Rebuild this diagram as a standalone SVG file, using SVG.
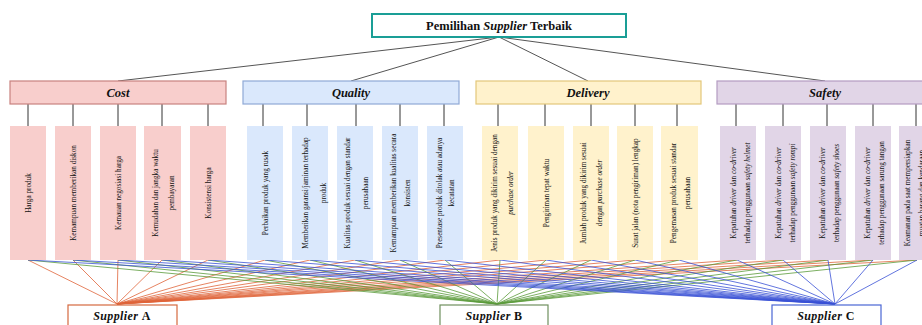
<svg xmlns="http://www.w3.org/2000/svg" width="922" height="325" viewBox="0 0 922 325">
<style>
.t{font-family:"Liberation Serif","Times New Roman",serif;fill:#111}
.title{font-size:12.5px;font-weight:bold;text-anchor:middle}
.crit{font-size:12.5px;font-weight:bold;font-style:italic;text-anchor:middle}
.sub{font-size:8.5px;text-anchor:middle}
.sup{font-size:12px;font-weight:bold;font-style:italic;text-anchor:middle;letter-spacing:0.4px}
.i{font-style:italic}
.cost{fill:#f8cecc}
.qual{fill:#dae8fc}
.del{fill:#fff2cc}
.saf{fill:#e1d5e7}
.tl{stroke:#555;stroke-width:1;fill:none}
.vl{stroke:#333;stroke-width:1;fill:none}
.a line{stroke:#e0643a;stroke-width:0.8}
.b line{stroke:#5b9b3a;stroke-width:0.8}
.c line{stroke:#3a52d6;stroke-width:0.8}
</style>
<rect width="922" height="325" fill="#fff"/>

<g id="connectors">
  <g class="tl">
    <line x1="499" y1="37" x2="118" y2="81"/>
    <line x1="499" y1="37" x2="351" y2="81"/>
    <line x1="499" y1="37" x2="588" y2="81"/>
    <line x1="499" y1="37" x2="825" y2="81"/>
  </g>
  <g class="vl">
    <line x1="28" y1="104" x2="28" y2="126"/><line x1="73" y1="104" x2="73" y2="126"/><line x1="118" y1="104" x2="118" y2="126"/><line x1="162" y1="104" x2="162" y2="126"/><line x1="208" y1="104" x2="208" y2="126"/>
    <line x1="263" y1="104" x2="263" y2="126"/><line x1="307" y1="104" x2="307" y2="126"/><line x1="356" y1="104" x2="356" y2="126"/><line x1="400" y1="104" x2="400" y2="126"/><line x1="444" y1="104" x2="444" y2="126"/>
    <line x1="498" y1="104" x2="498" y2="126"/><line x1="545" y1="104" x2="545" y2="126"/><line x1="591" y1="104" x2="591" y2="126"/><line x1="635" y1="104" x2="635" y2="126"/><line x1="677" y1="104" x2="677" y2="126"/>
    <line x1="736" y1="104" x2="736" y2="126"/><line x1="783" y1="104" x2="783" y2="126"/><line x1="827" y1="104" x2="827" y2="126"/><line x1="873" y1="104" x2="873" y2="126"/><line x1="916" y1="104" x2="916" y2="126"/>
  </g>
  <g class="a">
    <line x1="28" y1="260" x2="117" y2="304"/><line x1="73" y1="260" x2="117" y2="304"/><line x1="118" y1="260" x2="117" y2="304"/><line x1="162" y1="260" x2="117" y2="304"/><line x1="208" y1="260" x2="117" y2="304"/>
    <line x1="265" y1="260" x2="117" y2="304"/><line x1="310" y1="260" x2="117" y2="304"/><line x1="355" y1="260" x2="117" y2="304"/><line x1="400" y1="260" x2="117" y2="304"/><line x1="445" y1="260" x2="117" y2="304"/>
    <line x1="500" y1="260" x2="117" y2="304"/><line x1="546" y1="260" x2="117" y2="304"/><line x1="591" y1="260" x2="117" y2="304"/><line x1="635" y1="260" x2="117" y2="304"/><line x1="679" y1="260" x2="117" y2="304"/>
    <line x1="737" y1="260" x2="117" y2="304"/><line x1="783" y1="260" x2="117" y2="304"/><line x1="828" y1="260" x2="117" y2="304"/><line x1="873" y1="260" x2="117" y2="304"/><line x1="917" y1="260" x2="117" y2="304"/>
  </g>
  <g class="b">
    <line x1="28" y1="260" x2="497" y2="304"/><line x1="73" y1="260" x2="497" y2="304"/><line x1="118" y1="260" x2="497" y2="304"/><line x1="162" y1="260" x2="497" y2="304"/><line x1="208" y1="260" x2="497" y2="304"/>
    <line x1="265" y1="260" x2="497" y2="304"/><line x1="310" y1="260" x2="497" y2="304"/><line x1="355" y1="260" x2="497" y2="304"/><line x1="400" y1="260" x2="497" y2="304"/><line x1="445" y1="260" x2="497" y2="304"/>
    <line x1="500" y1="260" x2="497" y2="304"/><line x1="546" y1="260" x2="497" y2="304"/><line x1="591" y1="260" x2="497" y2="304"/><line x1="635" y1="260" x2="497" y2="304"/><line x1="679" y1="260" x2="497" y2="304"/>
    <line x1="737" y1="260" x2="497" y2="304"/><line x1="783" y1="260" x2="497" y2="304"/><line x1="828" y1="260" x2="497" y2="304"/><line x1="873" y1="260" x2="497" y2="304"/><line x1="917" y1="260" x2="497" y2="304"/>
  </g>
  <g class="c">
    <line x1="28" y1="260" x2="835" y2="304"/><line x1="73" y1="260" x2="835" y2="304"/><line x1="118" y1="260" x2="835" y2="304"/><line x1="162" y1="260" x2="835" y2="304"/><line x1="208" y1="260" x2="835" y2="304"/>
    <line x1="265" y1="260" x2="835" y2="304"/><line x1="310" y1="260" x2="835" y2="304"/><line x1="355" y1="260" x2="835" y2="304"/><line x1="400" y1="260" x2="835" y2="304"/><line x1="445" y1="260" x2="835" y2="304"/>
    <line x1="500" y1="260" x2="835" y2="304"/><line x1="546" y1="260" x2="835" y2="304"/><line x1="591" y1="260" x2="835" y2="304"/><line x1="635" y1="260" x2="835" y2="304"/><line x1="679" y1="260" x2="835" y2="304"/>
    <line x1="737" y1="260" x2="835" y2="304"/><line x1="783" y1="260" x2="835" y2="304"/><line x1="828" y1="260" x2="835" y2="304"/><line x1="873" y1="260" x2="835" y2="304"/><line x1="917" y1="260" x2="835" y2="304"/>
  </g>
</g>

<g id="goal">
  <rect x="372" y="14" width="254" height="23" fill="#fff" stroke="#1a9e96" stroke-width="2"/>
  <text class="t title" x="499" y="30">Pemilihan <tspan class="i">Supplier</tspan> Terbaik</text>
</g>

<g id="crit-cost"><rect x="10" y="81" width="216" height="23" class="cost" stroke="#c9827f" stroke-width="1.2"/><text class="t crit" x="118" y="97">Cost</text></g>
<g id="crit-quality"><rect x="243" y="81" width="216" height="23" class="qual" stroke="#8fa9d6" stroke-width="1.2"/><text class="t crit" x="351" y="97">Quality</text></g>
<g id="crit-delivery"><rect x="476" y="81" width="225" height="23" class="del" stroke="#e3c77a" stroke-width="1.2"/><text class="t crit" x="588" y="97">Delivery</text></g>
<g id="crit-safety"><rect x="717" y="81" width="216" height="23" class="saf" stroke="#b49cc2" stroke-width="1.2"/><text class="t crit" x="825" y="97">Safety</text></g>

<!-- Cost sub-criteria -->
<g id="c1"><rect x="10" y="126" width="36" height="134" class="cost"/><text class="t sub" transform="translate(28,193) rotate(-90) scale(0.85,1)" y="3">Harga produk</text></g>
<g id="c2"><rect x="55" y="126" width="36" height="134" class="cost"/><text class="t sub" transform="translate(73,193) rotate(-90) scale(0.85,1)" y="3">Kemampuan memberikan diskon</text></g>
<g id="c3"><rect x="100" y="126" width="36" height="134" class="cost"/><text class="t sub" transform="translate(118,193) rotate(-90) scale(0.85,1)" y="3">Kemauan negosiasi harga</text></g>
<g id="c4"><rect x="144" y="126" width="37" height="134" class="cost"/><text class="t sub" transform="translate(163,193) rotate(-90) scale(0.85,1)"><tspan x="0" y="-5.5">Kemudahan dan jangka waktu</tspan><tspan x="0" y="11.5">pembayaran</tspan></text></g>
<g id="c5"><rect x="190" y="126" width="36" height="134" class="cost"/><text class="t sub" transform="translate(208,193) rotate(-90) scale(0.85,1)" y="3">Konsistensi harga</text></g>

<!-- Quality sub-criteria -->
<g id="q1"><rect x="247" y="126" width="36" height="134" class="qual"/><text class="t sub" transform="translate(265,193) rotate(-90) scale(0.85,1)" y="3">Perbaikan produk yang rusak</text></g>
<g id="q2"><rect x="292" y="126" width="36" height="134" class="qual"/><text class="t sub" transform="translate(314,193) rotate(-90) scale(0.85,1)"><tspan x="0" y="-6">Memberikan garansi/jaminan terhadap</tspan><tspan x="0" y="12">produk</tspan></text></g>
<g id="q3"><rect x="337" y="126" width="36" height="134" class="qual"/><text class="t sub" transform="translate(356,193) rotate(-90) scale(0.85,1)"><tspan x="0" y="-6">Kualitas produk sesuai dengan standar</tspan><tspan x="0" y="12">perusahaan</tspan></text></g>
<g id="q4"><rect x="382" y="126" width="36" height="134" class="qual"/><text class="t sub" transform="translate(400,193) rotate(-90) scale(0.85,1)"><tspan x="0" y="-4.5">Kemampuan memberikan kualitas secara</tspan><tspan x="0" y="10.5">konsisten</tspan></text></g>
<g id="q5"><rect x="427" y="126" width="36" height="134" class="qual"/><text class="t sub" transform="translate(445,193) rotate(-90) scale(0.85,1)"><tspan x="0" y="-3.5">Presentase produk ditolak atau adanya</tspan><tspan x="0" y="9.5">kecatatan</tspan></text></g>

<!-- Delivery sub-criteria -->
<g id="d1"><rect x="482" y="126" width="36" height="134" class="del"/><text class="t sub" transform="translate(502,193) rotate(-90) scale(0.85,1)"><tspan x="0" y="-5.5">Jenis produk yang dikirim sesuai dengan</tspan><tspan x="0" y="11.5" class="i">purchase order</tspan></text></g>
<g id="d2"><rect x="528" y="126" width="36" height="134" class="del"/><text class="t sub" transform="translate(546,193) rotate(-90) scale(0.85,1)" y="3">Pengiriman tepat waktu</text></g>
<g id="d3"><rect x="573" y="126" width="36" height="134" class="del"/><text class="t sub" transform="translate(591,193) rotate(-90) scale(0.85,1)"><tspan x="0" y="-5.5">Jumlah produk yang dikirim sesuai</tspan><tspan x="0" y="11.5">dengan <tspan class="i">purchase order</tspan></tspan></text></g>
<g id="d4"><rect x="617" y="126" width="36" height="134" class="del"/><text class="t sub" transform="translate(635,193) rotate(-90) scale(0.85,1)" y="3">Surat jalan (nota pengiriman) lengkap</text></g>
<g id="d5"><rect x="661" y="126" width="37" height="134" class="del"/><text class="t sub" transform="translate(680,193) rotate(-90) scale(0.85,1)"><tspan x="0" y="-4.5">Pengemasan produk sesuai standar</tspan><tspan x="0" y="10.5">perusahaan</tspan></text></g>

<!-- Safety sub-criteria -->
<g id="s1"><rect x="720" y="126" width="36" height="134" class="saf"/><text class="t sub" transform="translate(740,193) rotate(-90) scale(0.85,1)"><tspan x="0" y="-4.5">Kepatuhan <tspan class="i">driver</tspan> dan <tspan class="i">co-driver</tspan></tspan><tspan x="0" y="10.5">terhadap penggunaan <tspan class="i">safety helmet</tspan></tspan></text></g>
<g id="s2"><rect x="765" y="126" width="36" height="134" class="saf"/><text class="t sub" transform="translate(785,193) rotate(-90) scale(0.85,1)"><tspan x="0" y="-4.5">Kepatuhan <tspan class="i">driver</tspan> dan <tspan class="i">co-driver</tspan></tspan><tspan x="0" y="10.5">terhadap penggunaan <tspan class="i">safety rompi</tspan></tspan></text></g>
<g id="s3"><rect x="810" y="126" width="36" height="134" class="saf"/><text class="t sub" transform="translate(829,193) rotate(-90) scale(0.85,1)"><tspan x="0" y="-4.5">Kepatuhan <tspan class="i">driver</tspan> dan <tspan class="i">co-driver</tspan></tspan><tspan x="0" y="10.5">terhadap penggunaan <tspan class="i">safety shoes</tspan></tspan></text></g>
<g id="s4"><rect x="855" y="126" width="36" height="134" class="saf"/><text class="t sub" transform="translate(874,193) rotate(-90) scale(0.85,1)"><tspan x="0" y="-4.5">Kepatuhan <tspan class="i">driver</tspan> dan <tspan class="i">co-driver</tspan></tspan><tspan x="0" y="10.5">terhadap penggunaan sarung tangan</tspan></text></g>
<g id="s5"><rect x="899" y="126" width="36" height="134" class="saf"/><text class="t sub" transform="translate(914,193) rotate(-90) scale(0.85,1)"><tspan x="0" y="-4.5">Keamanan pada saat mempersiapkan</tspan><tspan x="0" y="10.5">muatan barang dan kendaraan</tspan></text></g>

<!-- Suppliers -->
<g id="supplier-a"><rect x="68" y="305" width="109" height="30" fill="#fff" stroke="#d5693f" stroke-width="1.2"/><text class="t sup" x="122" y="320">Supplier <tspan font-style="normal">A</tspan></text></g>
<g id="supplier-b"><rect x="440" y="305" width="108" height="30" fill="#fff" stroke="#6f8f5e" stroke-width="1.2"/><text class="t sup" x="494" y="320">Supplier <tspan font-style="normal">B</tspan></text></g>
<g id="supplier-c"><rect x="772" y="305" width="109" height="30" fill="#fff" stroke="#4a66d4" stroke-width="1.2"/><text class="t sup" x="826" y="320">Supplier <tspan font-style="normal">C</tspan></text></g>
</svg>
